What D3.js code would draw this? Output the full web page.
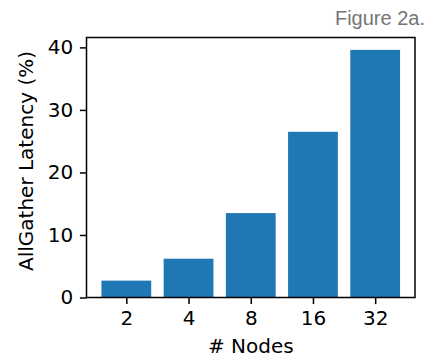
<!DOCTYPE html>
<html>
<head>
<meta charset="utf-8">
<script src="https://cdn.jsdelivr.net/npm/d3@7"></script>
<style>
  html, body { margin: 0; padding: 0; background: #fff; }
  svg { display: block; }
</style>
</head>
<body>
<svg id="chart" width="428" height="358"></svg>
<script>
// AllGather latency share by cluster size
const nodes = ["2", "4", "8", "16", "32"];
const latencyPct = [2.7, 6.2, 13.5, 26.5, 39.6];
const yTicks = [0, 10, 20, 30, 40];

const W = 428, H = 358;
const margin = { left: 86.5, right: 13, top: 37.5, bottom: 60.5 };
const svg = d3.select("#chart");

const x = d3.scaleLinear()
  .domain([-0.64, nodes.length - 1 + 0.64])
  .range([margin.left, W - margin.right]);
const y = d3.scaleLinear()
  .domain([0, d3.max(latencyPct) * 1.05])
  .range([H - margin.bottom, margin.top]);

const barW = x(0.8) - x(0);

svg.append("g")
  .selectAll("rect")
  .data(latencyPct)
  .join("rect")
  .attr("x", (d, i) => x(i - 0.4))
  .attr("y", d => y(d))
  .attr("width", barW)
  .attr("height", d => y(0) - y(d))
  .attr("fill", "#1f77b4");

const font = "DejaVu Sans, sans-serif";
const fs = "20px";

// axes
const xAxis = svg.append("g")
  .attr("transform", `translate(0,${y(0)})`)
  .call(d3.axisBottom(x)
    .tickValues(d3.range(nodes.length))
    .tickFormat(i => nodes[i])
    .tickSize(6.6).tickPadding(6.6));
const yAxis = svg.append("g")
  .attr("transform", `translate(${margin.left},0)`)
  .call(d3.axisLeft(y)
    .tickValues(yTicks)
    .tickSize(6.6).tickPadding(6.6));

[xAxis, yAxis].forEach(g => {
  g.select(".domain").remove();
  g.selectAll("line").attr("stroke", "#000").attr("stroke-width", 1.5);
  g.selectAll("text").attr("fill", "#000")
    .style("font-family", font).style("font-size", fs);
});

// frame
svg.append("rect")
  .attr("x", margin.left).attr("y", margin.top)
  .attr("width", W - margin.right - margin.left)
  .attr("height", y(0) - margin.top)
  .attr("fill", "none").attr("stroke", "#000").attr("stroke-width", 1.5);

// axis titles
svg.append("text")
  .attr("x", (margin.left + W - margin.right) / 2)
  .attr("y", 353)
  .attr("text-anchor", "middle")
  .style("font-family", font).style("font-size", fs)
  .text("# Nodes");

svg.append("text")
  .attr("transform", `translate(33,161) rotate(-90)`)
  .attr("text-anchor", "middle")
  .style("font-family", font).style("font-size", fs)
  .text("AllGather Latency (%)");

// caption
svg.append("text")
  .attr("x", 425).attr("y", 25)
  .attr("text-anchor", "end")
  .attr("fill", "#757575")
  .style("font-family", "Liberation Sans, Arial, sans-serif").style("font-size", "20px")
  .text("Figure 2a.");
</script>
</body>
</html>
